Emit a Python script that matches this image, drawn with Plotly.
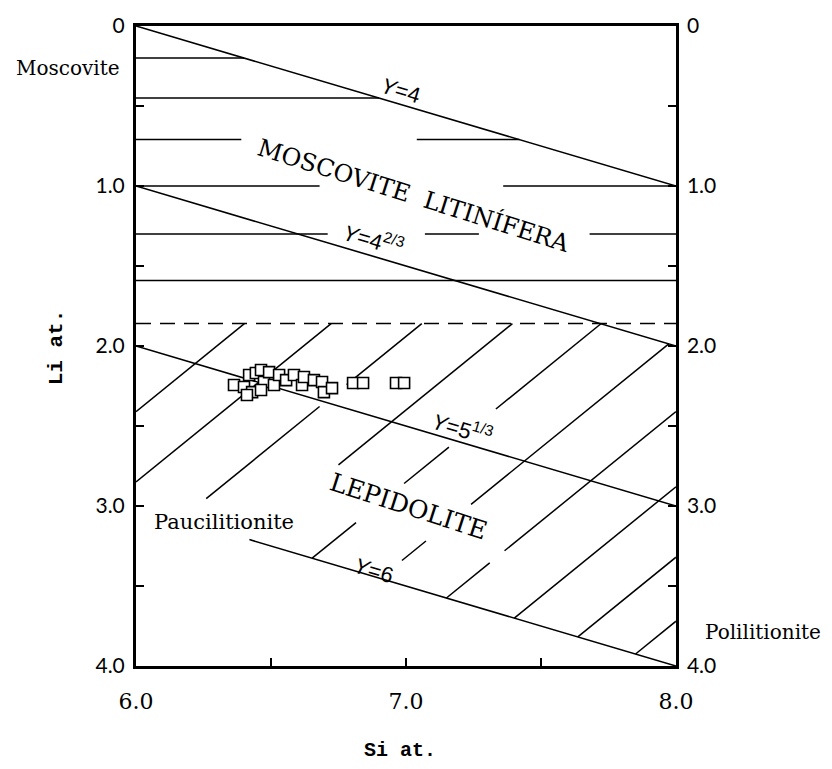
import plotly.graph_objects as go

# ---- reference lines of constant octahedral occupancy Y (Li at. vs Si at.) ----
y_line_labels = ["<i>Y</i>=4", "<i>Y</i>=4<sup>2/3</sup>", "<i>Y</i>=5<sup>1/3</sup>", "<i>Y</i>=6"]
y_line_li_at_si6 = [0.0, 1.0, 2.0, 3.0]
y_line_li_at_si8 = [1.0, 2.0, 3.0, 4.0]
y_line_si_start = [6.0, 6.0, 6.0, 6.42]
y_label_si = [6.98, 6.88, 7.21, 6.88]
y_label_li = [0.40, 1.33, 2.51, 3.40]

# ---- horizontal hatching: lithian muscovite field ----
hatch_h_li = [0.20, 0.45, 0.71, 1.00, 1.30, 1.59]
hatch_h_gaps = [[], [], [(6.39, 7.04)], [(6.68, 7.36)],
                [(6.71, 7.07), (7.27, 7.68)], []]
boundary_li = 1.86  # dashed limit between the two fields

# ---- diagonal hatching: lepidolite field, Li = c - slope*(Si - 6) ----
hatch_d_c = [2.41, 2.85, 3.31, 3.77, 4.22, 4.69, 5.15, 5.62, 6.06, 6.46]
hatch_d_slope = 1.37
hatch_d_gaps = [[], [], [(6.0, 6.26), (6.68, 6.78)], [(6.0, 6.75)],
                [(6.815, 6.993), (7.159, 7.333)], [(6.0, 6.985), (7.074, 7.241)],
                [(7.31, 7.365)], [], [], []]

# ---- analysed micas ----
si_samples = [6.363, 6.400, 6.419, 6.444, 6.463, 6.474, 6.493, 6.511, 6.530, 6.556,
              6.585, 6.615, 6.622, 6.659, 6.689, 6.696, 6.726, 6.430, 6.463, 6.411,
              6.804, 6.841, 6.963, 6.993]
li_samples = [2.244, 2.256, 2.181, 2.169, 2.150, 2.225, 2.163, 2.244, 2.181, 2.213,
              2.181, 2.244, 2.194, 2.213, 2.225, 2.288, 2.263, 2.288, 2.275, 2.306,
              2.231, 2.231, 2.231, 2.231]

SI_MIN, SI_MAX = 6.0, 8.0
LI_MIN, LI_MAX = 0.0, 4.0


def y_line(i, si):
    return y_line_li_at_si6[i] + (si - 6.0) * (y_line_li_at_si8[i] - y_line_li_at_si6[i]) / 2.0


def cut(lo, hi, gaps):
    parts = [(lo, hi)]
    for g0, g1 in gaps:
        nxt = []
        for a, b in parts:
            if g1 <= a or g0 >= b:
                nxt.append((a, b))
                continue
            if g0 > a:
                nxt.append((a, g0))
            if g1 < b:
                nxt.append((g1, b))
        parts = nxt
    return [(a, b) for a, b in parts if b - a > 1e-6]


# horizontal hatch segments, limited on the right by the Y=4 line
hx, hy = [], []
rise0 = (y_line_li_at_si8[0] - y_line_li_at_si6[0]) / 2.0
for li, gaps in zip(hatch_h_li, hatch_h_gaps):
    si_end = min(SI_MAX, 6.0 + (li - y_line_li_at_si6[0]) / rise0)
    for a, b in cut(SI_MIN, si_end, gaps):
        hx += [a, b, None]
        hy += [li, li, None]

# diagonal hatch segments, between the dashed limit / Y=4 2/3 and Y=6
dx, dy = [], []
rise = 0.5
for c, gaps in zip(hatch_d_c, hatch_d_gaps):
    s_lo = max(0.0, (c - y_line_li_at_si6[3]) / (hatch_d_slope + rise))
    s_hi = min(2.0, (c - boundary_li) / hatch_d_slope,
               (c - y_line_li_at_si6[1]) / (hatch_d_slope + rise))
    for a, b in cut(6.0 + s_lo, 6.0 + s_hi, gaps):
        dx += [a, b, None]
        dy += [c - hatch_d_slope * (a - 6.0), c - hatch_d_slope * (b - 6.0), None]

fig = go.Figure()

line_style = dict(color="black", width=1.5)
fig.add_trace(go.Scatter(x=hx, y=hy, mode="lines", line=line_style, hoverinfo="skip"))
fig.add_trace(go.Scatter(x=dx, y=dy, mode="lines", line=line_style, hoverinfo="skip"))
fig.add_trace(go.Scatter(x=[SI_MIN, SI_MAX], y=[boundary_li, boundary_li], mode="lines",
                         line=dict(color="black", width=1.5, dash="15px,9px"), hoverinfo="skip"))

for i in range(len(y_line_labels)):
    s0 = y_line_si_start[i]
    fig.add_trace(go.Scatter(x=[s0, SI_MAX], y=[y_line(i, s0), y_line(i, SI_MAX)],
                             mode="lines", line=dict(color="black", width=1.6),
                             hoverinfo="skip"))

fig.add_trace(go.Scatter(x=si_samples, y=li_samples, mode="markers",
                         marker=dict(symbol="square", size=11, color="white",
                                     line=dict(color="black", width=1.6))))

# right-hand scale
fig.add_trace(go.Scatter(x=[SI_MIN], y=[LI_MIN], yaxis="y2", mode="markers",
                         marker=dict(opacity=0), hoverinfo="skip"))

serif = "DejaVu Serif"
centered = dict(showarrow=False, xanchor="center", yanchor="middle")
annotations = []
for i, txt in enumerate(y_line_labels):
    annotations.append(dict(x=y_label_si[i], y=y_label_li[i], xref="x", yref="y",
                            text=txt, textangle=16.5, **centered,
                            font=dict(family="Liberation Sans", size=22, color="black")))

annotations += [
    dict(x=7.03, y=1.06, xref="x", yref="y", text="MOSCOVITE  LITINÍFERA", **centered,
         textangle=17.5, font=dict(family=serif, size=24, color="black")),
    dict(x=7.01, y=3.00, xref="x", yref="y", text="LEPIDOLITE", **centered,
         textangle=18, font=dict(family=serif, size=25, color="black")),
    dict(x=-0.126, y=0.934, xref="paper", yref="paper", text="Moscovite", **centered,
         font=dict(family=serif, size=20, color="black")),
    dict(x=6.326, y=3.10, xref="x", yref="y", text="Paucilitionite", **centered,
         font=dict(family=serif, size=21, color="black")),
    dict(x=1.161, y=0.053, xref="paper", yref="paper", text="Polilitionite", **centered,
         font=dict(family=serif, size=20, color="black")),
    dict(x=0.489, y=-0.132, xref="paper", yref="paper", text="<b>Si at.</b>", **centered,
         font=dict(family="Liberation Mono", size=20, color="black")),
    dict(x=-0.148, y=0.498, xref="paper", yref="paper", text="<b>Li at.</b>", **centered,
         textangle=-90, font=dict(family="Liberation Mono", size=21, color="black")),
]

y_tickvals = [0, 0.5, 1, 1.5, 2, 2.5, 3, 3.5, 4]
y_ticktext = ["0", "", "1.0", "", "2.0", "", "3.0", "", "4.0"]
x_tickvals = [6, 6.5, 7, 7.5, 8]
x_ticktext = ["6.0", "", "7.0", "", "8.0"]

fig.update_layout(
    width=832, height=769,
    margin=dict(l=136, r=156, t=26, b=103),
    paper_bgcolor="white", plot_bgcolor="white",
    showlegend=False,
    annotations=annotations,
    xaxis=dict(range=[SI_MIN, SI_MAX], showgrid=False, zeroline=False,
               showline=True, linecolor="black", linewidth=2.5, mirror=True,
               tickvals=x_tickvals, ticktext=x_ticktext, ticks="inside", ticklen=8,
               tickwidth=1.5, tickcolor="black", ticklabelstandoff=14,
               tickfont=dict(family="DejaVu Serif", size=22, color="black")),
    yaxis=dict(range=[LI_MAX, LI_MIN], showgrid=False, zeroline=False,
               showline=True, linecolor="black", linewidth=3,
               tickvals=y_tickvals, ticktext=y_ticktext, ticks="inside", ticklen=8,
               tickwidth=1.5, tickcolor="black", ticklabelstandoff=4,
               tickfont=dict(family="Lato", size=21, color="black")),
    yaxis2=dict(range=[LI_MAX, LI_MIN], overlaying="y", side="right", showgrid=False,
                zeroline=False, showline=True, linecolor="black", linewidth=2.5,
                tickvals=y_tickvals, ticktext=y_ticktext, ticks="inside", ticklen=8,
                tickwidth=1.5, tickcolor="black", ticklabelstandoff=4,
                tickfont=dict(family="Lato", size=21, color="black")),
)

fig.write_html("out.html")
